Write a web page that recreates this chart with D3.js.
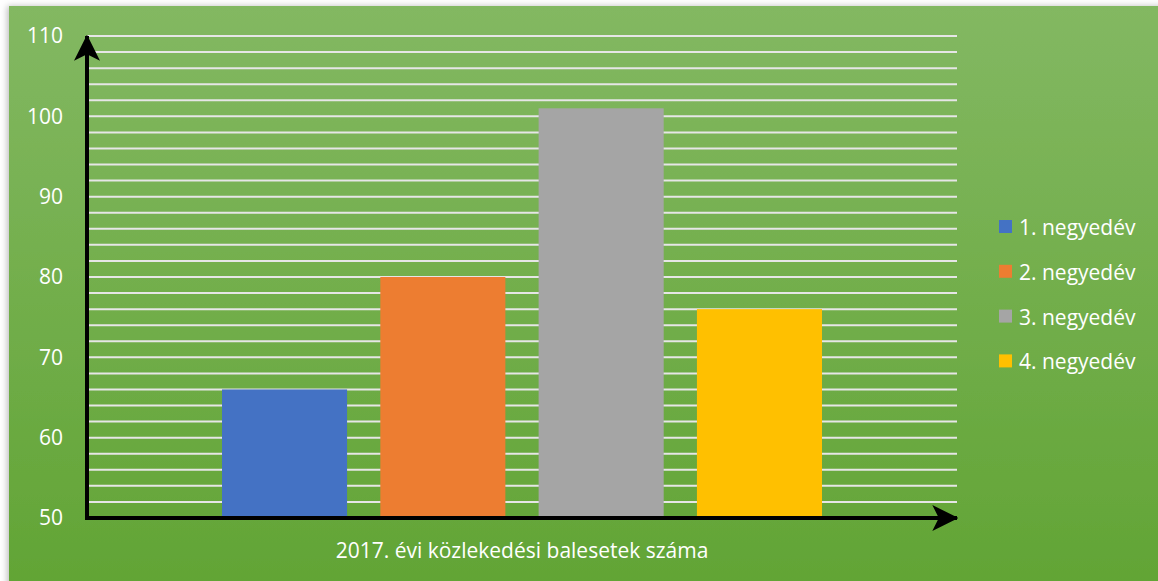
<!DOCTYPE html>
<html>
<head>
<meta charset="utf-8">
<script src="https://cdn.jsdelivr.net/npm/d3@7"></script>
<style>
  body { margin: 0; background: #fff; }
  svg { display: block; font-family: "Open Sans", Lato, sans-serif; }
</style>
</head>
<body>
<svg id="chart" width="1158" height="581"></svg>
<script>
// data
const category = "2017. évi közlekedési balesetek száma";
const seriesNames = ["1. negyedév", "2. negyedév", "3. negyedév", "4. negyedév"];
const seriesValues = [66, 80, 101, 76];
const seriesColors = ["#4472c4", "#ed7d31", "#a5a5a5", "#ffc000"];
const yTicks = [50, 60, 70, 80, 90, 100, 110];

const svg = d3.select("#chart");

// background gradient
const defs = svg.append("defs");
const grad = defs.append("linearGradient")
    .attr("id", "bg").attr("x1", 0).attr("y1", 0).attr("x2", 0).attr("y2", 1);
grad.append("stop").attr("offset", "0%").attr("stop-color", "#83b862");
grad.append("stop").attr("offset", "100%").attr("stop-color", "#61a434");

const shadow = defs.append("filter").attr("id", "shadow")
    .attr("x", "-5%").attr("y", "-5%").attr("width", "110%").attr("height", "110%");
shadow.append("feDropShadow").attr("dx", -2).attr("dy", 0)
    .attr("stdDeviation", 3).attr("flood-color", "#000").attr("flood-opacity", 0.25);

svg.append("rect")
    .attr("x", 9).attr("y", 6)
    .attr("width", 1160).attr("height", 590)
    .attr("fill", "url(#bg)")
    .attr("filter", "url(#shadow)");

// plot area bounds
const plotLeft = 87, plotRight = 957, plotTop = 36, plotBottom = 518;

const y = d3.scaleLinear().domain([50, 110]).range([plotBottom, plotTop]);

const x0 = d3.scaleBand().domain([category]).range([plotLeft, plotRight]);
const x1 = d3.scaleBand().domain(seriesNames)
    .range([x0(category) + 135, x0(category) + x0.bandwidth() - 135])
    .paddingInner(0.21);

// grid lines every 2
const gridVals = d3.range(52, 111, 2);
svg.append("g").selectAll("line")
    .data(gridVals).enter().append("line")
    .attr("x1", plotLeft).attr("x2", plotRight)
    .attr("y1", d => y(d)).attr("y2", d => y(d))
    .attr("stroke", "#e6e6e6").attr("stroke-width", 2);

// bars
svg.append("g").selectAll("rect")
    .data(seriesValues).enter().append("rect")
    .attr("x", (d, i) => x1(seriesNames[i]))
    .attr("width", x1.bandwidth())
    .attr("y", d => y(d))
    .attr("height", d => y(50) - y(d))
    .attr("fill", (d, i) => seriesColors[i]);

// y axis labels
const yAxis = d3.axisLeft(y).tickValues(yTicks).tickSize(0).tickPadding(0);
const yg = svg.append("g")
    .attr("transform", "translate(63,0)")
    .call(yAxis);
yg.select(".domain").remove();
yg.selectAll("text")
    .attr("fill", "#fff")
    .style("font-size", "21px")
    .style("font-family", "'Open Sans', Lato, sans-serif");

// axis arrows
const arrow = defs.append("marker")
    .attr("id", "arrow")
    .attr("viewBox", "0 0 10 10")
    .attr("refX", 9.5).attr("refY", 5)
    .attr("markerWidth", 6.5).attr("markerHeight", 6.5)
    .attr("markerUnits", "strokeWidth")
    .attr("orient", "auto");
arrow.append("path").attr("d", "M0,0 L10,5 L0,10 L2.5,5 Z").attr("fill", "#000");

svg.append("line")
    .attr("x1", plotLeft).attr("y1", plotBottom + 2)
    .attr("x2", plotLeft).attr("y2", plotTop)
    .attr("stroke", "#000").attr("stroke-width", 4)
    .attr("marker-end", "url(#arrow)");

svg.append("line")
    .attr("x1", plotLeft - 2).attr("y1", plotBottom)
    .attr("x2", plotRight).attr("y2", plotBottom)
    .attr("stroke", "#000").attr("stroke-width", 4)
    .attr("marker-end", "url(#arrow)");

// category label
svg.append("text")
    .attr("x", x0(category) + x0.bandwidth() / 2)
    .attr("y", 558)
    .attr("text-anchor", "middle")
    .attr("fill", "#fff")
    .style("font-size", "21px")
    .text(category);

// legend
const leg = svg.append("g").attr("transform", "translate(999,227)");
const legItems = leg.selectAll("g")
    .data(seriesNames).enter().append("g")
    .attr("transform", (d, i) => "translate(0," + (i * 44.8) + ")");
legItems.append("rect")
    .attr("x", 0).attr("y", -7)
    .attr("width", 13).attr("height", 13)
    .attr("fill", (d, i) => seriesColors[i]);
legItems.append("text")
    .attr("x", 20).attr("y", 0)
    .attr("dominant-baseline", "central")
    .attr("fill", "#fff")
    .style("font-size", "21px")
    .text(d => d);
</script>
</body>
</html>
